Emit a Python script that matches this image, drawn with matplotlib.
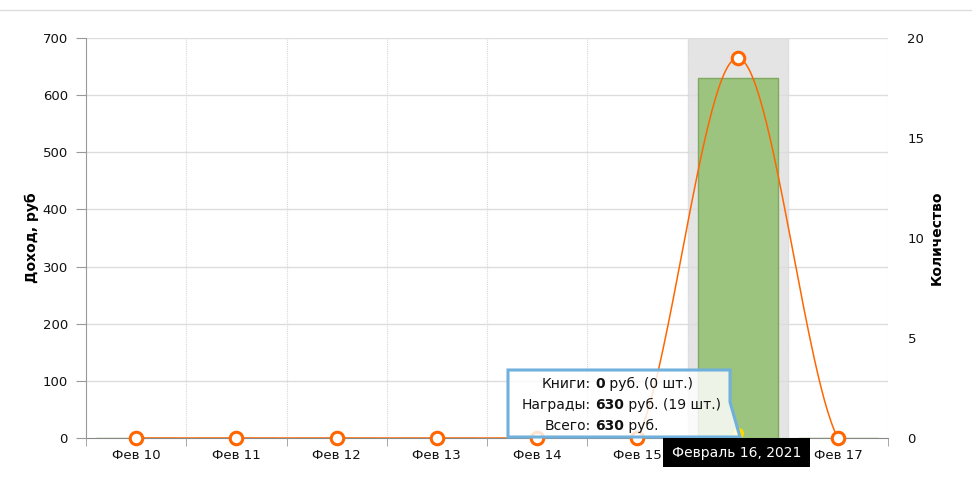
import numpy as np
import matplotlib
matplotlib.use("Agg")
import matplotlib.pyplot as plt
from matplotlib.patches import Polygon, Rectangle

categories = ["Фев 10", "Фев 11", "Фев 12", "Фев 13", "Фев 14", "Фев 15", "Фев 16", "Фев 17"]
income = [0, 0, 0, 0, 0, 0, 630, 0]
count = [0, 0, 0, 0, 0, 0, 19, 0]
highlight_idx = 6
tip_lines = [("Книги:", "0", " руб. (0 шт.)"),
             ("Награды:", "630", " руб. (19 шт.)"),
             ("Всего:", "630", " руб.")]
date_label = "Февраль 16, 2021"

W, H = 972, 487
fig = plt.figure(figsize=(W / 100, H / 100), dpi=100)
plt.rcParams['font.family'] = ['DejaVu Sans']

def fx(x):
    return x / W
def fy(y):
    return 1 - y / H

L, R, T, B = 86, 888, 38, 438
ax = fig.add_axes([fx(L), fy(B), fx(R) - fx(L), fy(T) - fy(B)])
ax2 = ax.twinx()
ax.set_zorder(1)
ax2.set_zorder(2)
ax.patch.set_visible(False)
ax2.patch.set_visible(False)

n = len(categories)
x = np.arange(n)
ax.set_xlim(-0.5, n - 0.5)
ax.set_ylim(0, 700)
ax2.set_ylim(0, 20)

# highlight band
ax.axvspan(highlight_idx - 0.5, highlight_idx + 0.5, color="#e4e4e4", zorder=0)
# grid
for v in range(100, 701, 100):
    ax.axhline(v, color="#dddddd", lw=1, zorder=0.5)
for b in np.arange(0.5, n - 0.5, 1.0):
    ax.axvline(b, color="#d8d8d8", lw=0.8, ls=(0, (1, 1)), zorder=0.5)
ax.axvline(n - 0.5, color="#d8d8d8", lw=0.8, ls=(0, (1, 1)), zorder=0.5)

ax.bar(x, income, width=0.8, color="#9dc47f", edgecolor="#7fa862", lw=1.0, zorder=6)

# smoothed line (Catmull-Rom)
xs, ys = [], []
c = np.array(count, dtype=float)
for i in range(n - 1):
    p0 = c[i - 1] if i > 0 else c[i]
    p3 = c[i + 2] if i + 2 < n else c[i + 1]
    m1 = (c[i + 1] - p0) / 2
    m2 = (p3 - c[i]) / 2
    t = np.linspace(0, 1, 60)
    h00 = 2 * t**3 - 3 * t**2 + 1
    h10 = t**3 - 2 * t**2 + t
    h01 = -2 * t**3 + 3 * t**2
    h11 = t**3 - t**2
    xs.extend(i + t)
    ys.extend(h00 * c[i] + h10 * m1 + h01 * c[i + 1] + h11 * m2)
ax2.plot(xs, ys, color="#ff6600", lw=1.1, zorder=3, clip_on=True)
ax2.plot(x, count, ls="none", marker="o", ms=9, mfc="white", mec="#ff6600", mew=2.2,
         zorder=4, clip_on=False)

# axes styling
for a in (ax, ax2):
    for s in a.spines.values():
        s.set_visible(False)
ax.spines["left"].set_visible(True)
ax.spines["left"].set_color("#999999")
ax.spines["bottom"].set_visible(True)
ax.spines["bottom"].set_color("#888888")
ax.spines["bottom"].set_zorder(1)

ax.set_yticks(range(0, 701, 100))
ax.tick_params(axis="y", length=7, color="#999999", labelsize=9.5, pad=6, labelcolor="#111111")
ax2.set_yticks(range(0, 21, 5))
ax2.tick_params(axis="y", length=0, labelsize=9.5, pad=14, labelcolor="#111111")
ax.set_xticks(x)
ax.set_xticklabels(categories)
ax.tick_params(axis="x", length=0, labelsize=9.5, pad=8, labelcolor="#111111")
ax.set_xticks(np.arange(-0.5, n, 1.0), minor=True)
ax.tick_params(axis="x", which="minor", length=6, color="#999999")

ax.set_ylabel("Доход, руб", fontsize=10, fontweight="bold", labelpad=3)
ax2.set_ylabel("Количество", fontsize=10, fontweight="bold", labelpad=4)

# top line
fig.add_artist(plt.Line2D([0, 1], [fy(10), fy(10)], transform=fig.transFigure,
                          color="#dddddd", lw=1))

# cursor bullet
fig.add_artist(plt.Line2D([fx(738)], [fy(433)], transform=fig.transFigure, marker="o",
                          ms=7, mfc="#ffd700", mec="#ffd700", ls="none", zorder=9))

# tooltip
poly = Polygon([(fx(508), fy(370)), (fx(730), fy(370)), (fx(730), fy(402)),
                (fx(740), fy(437)), (fx(508), fy(437))], closed=True,
               transform=fig.transFigure, facecolor=(1, 1, 1, 0.82),
               edgecolor="#6fb0dc", lw=2.2, zorder=10)
fig.add_artist(poly)
colon_x = 591
for k, (lab, val, rest) in enumerate(tip_lines):
    yy = fy(384 + k * 21)
    fig.text(fx(colon_x), yy, lab, ha="right", va="center", fontsize=10, color="#111111", zorder=11)
    t1 = fig.text(fx(colon_x + 4), yy, val, ha="left", va="center", fontsize=10,
                  fontweight="bold", color="#111111", zorder=11)
    ann = matplotlib.text.Annotation(rest, xy=(1, 0.5), xycoords=t1, va="center",
                                     ha="left", fontsize=10, color="#111111")
    ann.set_figure(fig)
    ann.set_zorder(11)
    fig.texts.append(ann)

# date label
fig.add_artist(Rectangle((fx(663), fy(467)), fx(810) - fx(663), fy(438) - fy(467),
                         transform=fig.transFigure, facecolor="black", edgecolor="none", zorder=12))
fig.text(fx(736.5), fy(453), date_label, ha="center", va="center", fontsize=10,
         color="white", zorder=13)

fig.savefig("out.png", dpi=100)
